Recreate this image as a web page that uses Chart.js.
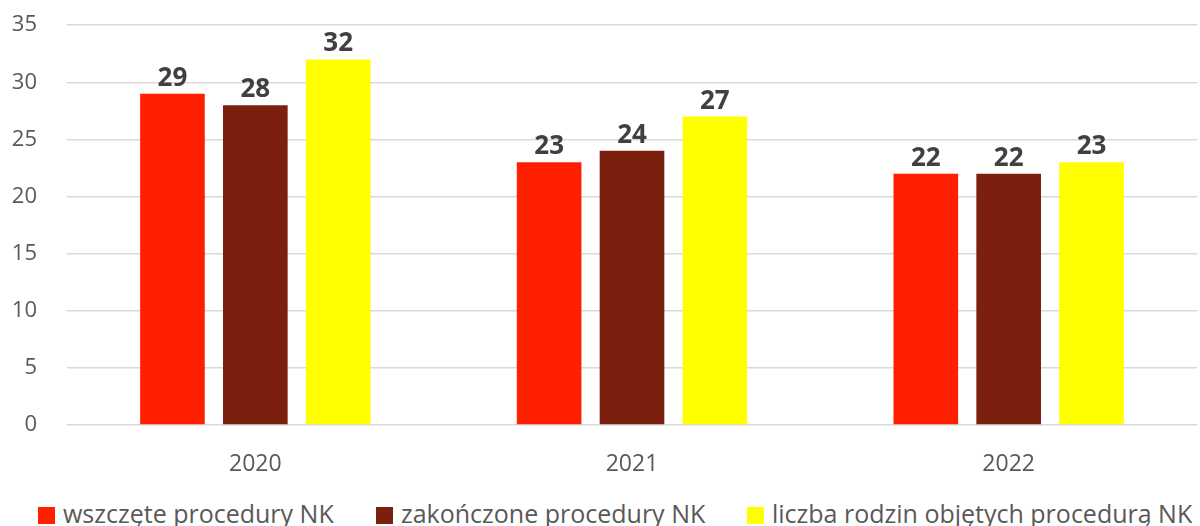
<!DOCTYPE html>
<html lang="pl">
<head>
  <meta charset="UTF-8">
  <title>Procedury NK</title>
  <script src="https://cdn.jsdelivr.net/npm/chart.js"></script>
  <style>
    html, body { margin: 0; padding: 0; background: #fff; }
    #wrap { position: relative; width: 1200px; height: 526px; overflow: hidden; }
    #wykres { display: block; margin-top: -18px; }
    #legenda { position: absolute; top: 498px; left: 0; width: 1200px; height: 30px; }
    .poz { position: absolute; top: 0; display: flex; align-items: center; height: 30px;
           font: 25px 'Open Sans', 'Noto Sans', sans-serif; color: #595959; white-space: nowrap; }
    .poz span.kw { display: inline-block; width: 17px; height: 17px; margin-right: 8px;
                   position: relative; top: 2px; }
  </style>
</head>
<body>
<div id="wrap">
  <canvas id="wykres" width="1200" height="510"></canvas>
  <div id="legenda"></div>
</div>
<script>
  // dane z wykresu
  const lata = ['2020', '2021', '2022'];
  const serie = ['wszczęte procedury NK', 'zakończone procedury NK', 'liczba rodzin objętych procedurą NK'];
  const wszczete = [29, 23, 22];
  const zakonczone = [28, 24, 22];
  const rodziny = [32, 27, 23];
  const yTicks = [0, 5, 10, 15, 20, 25, 30, 35];
  const kolory = ['#ff2000', '#7b1f0e', '#ffff00'];

  const czcionka = "'Open Sans', 'Noto Sans', sans-serif";

  // etykiety wartosci nad slupkami
  const etykiety = {
    id: 'etykiety',
    afterDatasetsDraw(chart) {
      const ctx = chart.ctx;
      ctx.save();
      ctx.font = 'bold 26px ' + czcionka;
      ctx.fillStyle = '#404040';
      ctx.textAlign = 'center';
      ctx.textBaseline = 'alphabetic';
      chart.data.datasets.forEach((ds, i) => {
        chart.getDatasetMeta(i).data.forEach((bar, j) => {
          ctx.fillText(ds.data[j], bar.x, bar.y - 8);
        });
      });
      ctx.restore();
    }
  };

  const wykres = new Chart(document.getElementById('wykres').getContext('2d'), {
    type: 'bar',
    data: {
      labels: lata,
      datasets: [
        { label: serie[0], data: wszczete, backgroundColor: kolory[0] },
        { label: serie[1], data: zakonczone, backgroundColor: kolory[1] },
        { label: serie[2], data: rodziny, backgroundColor: kolory[2] }
      ]
    },
    options: {
      responsive: false,
      animation: false,
      layout: { padding: { top: 0, right: 3, left: 0, bottom: 0 } },
      datasets: { bar: { categoryPercentage: 0.66, barPercentage: 0.78 } },
      plugins: {
        tooltip: { enabled: false },
        legend: { display: false }
      },
      scales: {
        x: {
          grid: { display: false },
          border: { display: false },
          ticks: { color: '#595959', font: { family: czcionka, size: 23 }, padding: 18 },
          afterFit(axis) { axis.height = 67; }
        },
        y: {
          min: 0,
          max: 35,
          afterBuildTicks(axis) { axis.ticks = yTicks.map(v => ({ value: v })); },
          grid: { color: '#d9d9d9', lineWidth: 1.5, drawTicks: false },
          border: { display: false },
          ticks: { color: '#595959', font: { family: czcionka, size: 22 }, padding: 30 },
          afterFit(axis) { axis.width = 67; }
        }
      }
    },
    plugins: [etykiety]
  });

  // legenda pod wykresem (pozycje jak w oryginale)
  const pozX = [38, 376, 747];
  const leg = document.getElementById('legenda');
  serie.forEach((s, i) => {
    const d = document.createElement('div');
    d.className = 'poz';
    d.style.left = pozX[i] + 'px';
    d.innerHTML = '<span class="kw" style="background:' + kolory[i] + '"></span>' + s;
    leg.appendChild(d);
  });
</script>
</body>
</html>
